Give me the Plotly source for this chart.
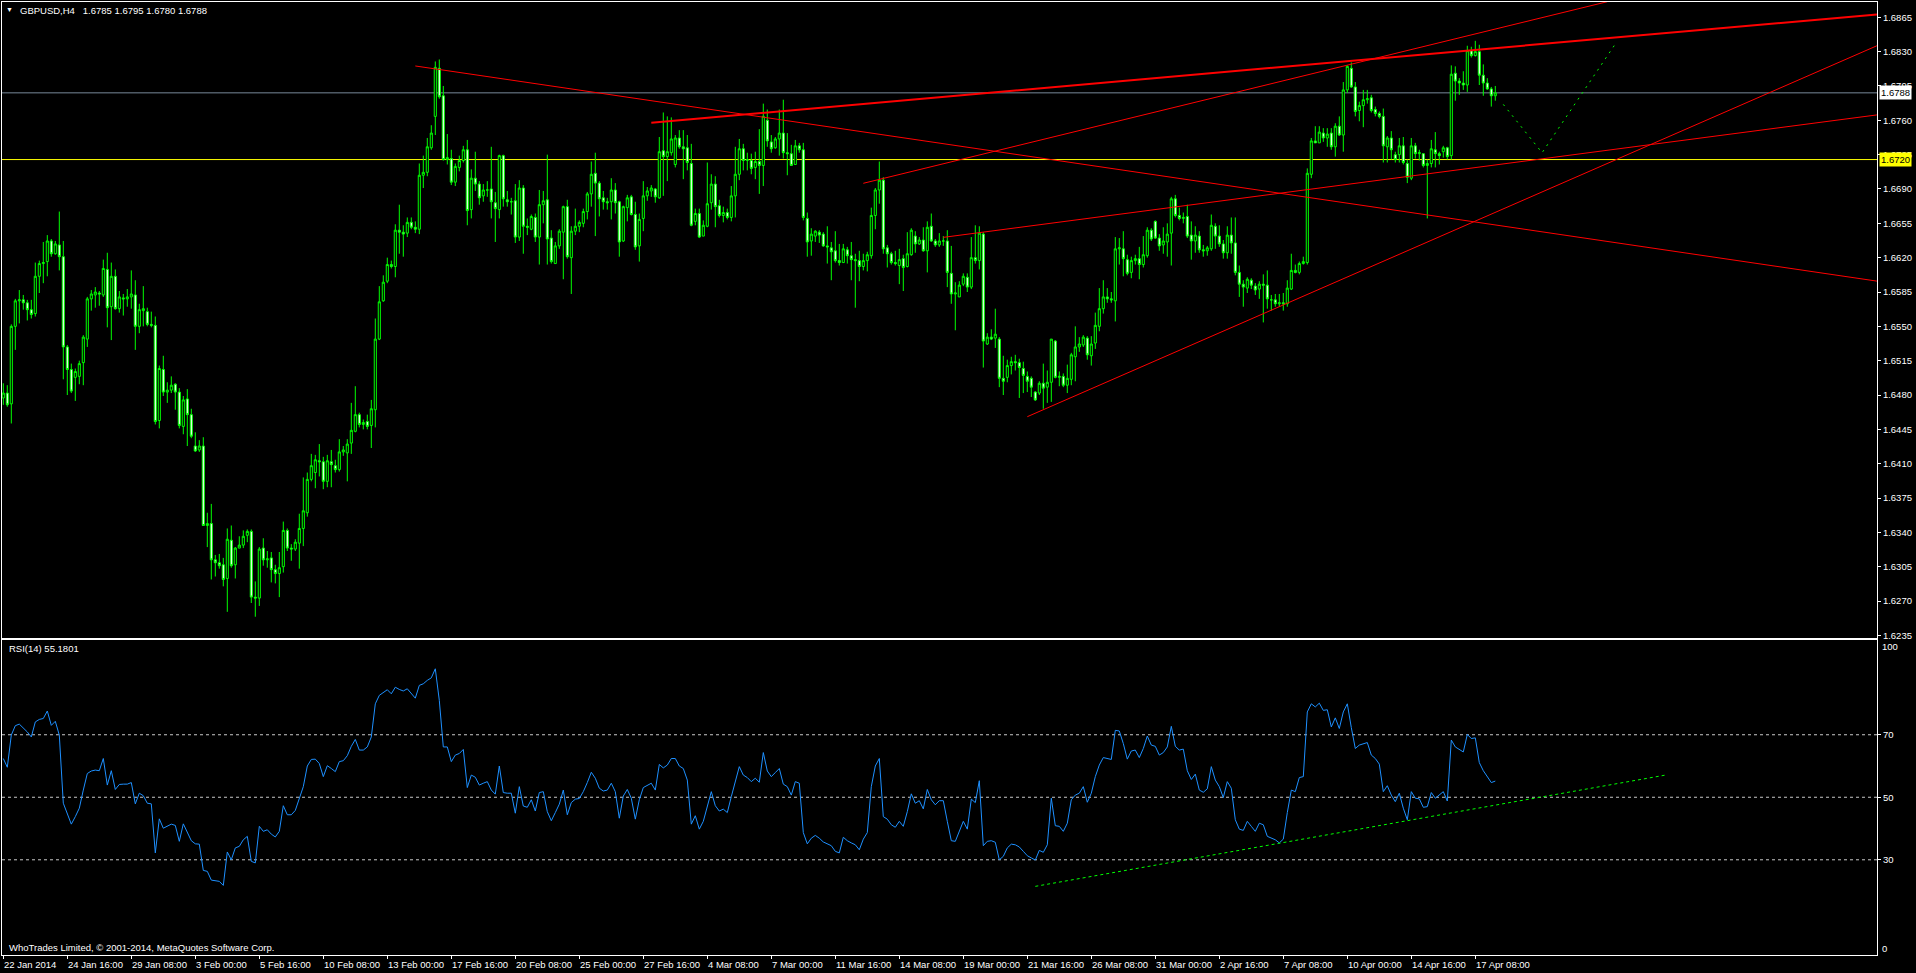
import plotly.graph_objects as go

# GBPUSD H4, bar 0 = 22 Jan 2014 00:00 (six bars per trading day)
# prices are in pips above 1.6000
opens = [
    477, 482, 471, 550, 576, 577, 574, 567, 563, 601,
    614, 616, 637, 624, 633, 621, 529, 506, 498, 499,
    513, 537, 578, 582, 584, 582, 608, 570, 601, 568,
    579, 578, 580, 582, 550, 566, 565, 552, 551, 454,
    506, 483, 485, 491, 483, 448, 476, 460, 428, 424,
    428, 347, 349, 312, 309, 307, 293, 332, 307, 324,
    327, 337, 341, 274, 273, 324, 312, 314, 302, 298,
    305, 342, 324, 323, 329, 344, 360, 394, 401, 413,
    412, 392, 412, 408, 404, 422, 421, 431, 443, 460,
    450, 453, 449, 465, 537, 576, 596, 613, 611, 648,
    646, 645, 656, 651, 649, 704, 707, 732, 764, 813,
    785, 720, 721, 697, 712, 719, 730, 669, 701, 695,
    683, 689, 690, 676, 669, 724, 679, 677, 678, 641,
    691, 652, 649, 661, 641, 674, 679, 640, 614, 632,
    646, 672, 620, 647, 652, 655, 667, 685, 706, 696,
    681, 677, 677, 689, 677, 637, 671, 682, 664, 632,
    660, 683, 688, 690, 681, 729, 723, 727, 715, 742,
    733, 732, 716, 657, 665, 642, 652, 676, 695, 673,
    663, 666, 661, 683, 705, 731, 719, 719, 712, 718,
    714, 760, 738, 732, 741, 747, 727, 726, 715, 734,
    730, 660, 637, 642, 646, 644, 632, 630, 627, 617,
    615, 628, 622, 618, 617, 611, 617, 622, 663, 689,
    699, 630, 624, 615, 612, 619, 611, 623, 642, 634,
    638, 627, 652, 637, 633, 637, 637, 604, 583, 580,
    593, 600, 590, 620, 617, 644, 532, 539, 538, 537,
    497, 498, 510, 514, 513, 507, 499, 497, 483, 482,
    492, 488, 493, 535, 498, 499, 490, 496, 519, 529,
    531, 538, 520, 533, 550, 568, 580, 578, 576, 629,
    629, 618, 605, 617, 619, 613, 622, 648, 657, 640,
    633, 636, 645, 680, 663, 660, 662, 643, 637, 642,
    628, 627, 629, 652, 642, 634, 625, 643, 635, 605,
    593, 589, 597, 591, 588, 593, 592, 577, 577, 573,
    574, 573, 588, 607, 605, 614, 615, 705, 739, 737,
    747, 742, 747, 733, 754, 745, 791, 813, 794, 770,
    775, 781, 783, 771, 767, 764, 733, 742, 725, 725,
    734, 716, 701, 734, 726, 726, 714, 716, 730, 726,
    728, 732, 724, 808, 800, 798, 796, 831, 826, 830,
    806, 798, 792, 785,
]
highs = [
    492, 490, 552, 578, 587, 582, 577, 577, 615, 617,
    636, 643, 639, 637, 667, 637, 531, 512, 507, 515,
    541, 580, 587, 590, 586, 618, 625, 615, 608, 586,
    583, 588, 607, 597, 573, 591, 569, 565, 560, 510,
    520, 493, 499, 492, 487, 479, 486, 466, 442, 434,
    437, 360, 369, 317, 318, 314, 344, 347, 325, 336,
    342, 343, 343, 290, 325, 334, 321, 320, 307, 320,
    351, 344, 328, 333, 359, 396, 401, 420, 419, 430,
    417, 419, 424, 414, 435, 428, 435, 472, 489, 462,
    455, 460, 475, 558, 591, 602, 620, 617, 654, 674,
    653, 661, 661, 657, 716, 724, 742, 755, 820, 822,
    795, 746, 730, 716, 724, 734, 740, 710, 728, 698,
    695, 698, 733, 687, 725, 725, 688, 681, 695, 699,
    694, 660, 664, 665, 689, 688, 725, 648, 636, 649,
    673, 679, 652, 670, 658, 670, 687, 718, 727, 698,
    688, 681, 701, 696, 678, 673, 684, 684, 677, 665,
    698, 692, 694, 691, 743, 768, 764, 763, 745, 750,
    750, 745, 736, 670, 670, 658, 717, 705, 703, 679,
    672, 670, 693, 733, 741, 736, 727, 726, 728, 751,
    777, 771, 745, 743, 771, 781, 747, 735, 740, 737,
    737, 666, 650, 648, 648, 646, 652, 636, 647, 634,
    634, 631, 636, 624, 627, 624, 626, 671, 691, 718,
    702, 633, 626, 627, 629, 623, 646, 650, 647, 641,
    651, 657, 665, 639, 645, 642, 648, 632, 595, 596,
    604, 604, 641, 653, 652, 646, 543, 547, 568, 539,
    520, 516, 519, 521, 517, 514, 504, 499, 484, 494,
    512, 505, 537, 536, 504, 502, 511, 523, 550, 539,
    541, 540, 540, 564, 589, 597, 589, 585, 641, 640,
    647, 623, 621, 623, 631, 642, 651, 650, 658, 644,
    651, 655, 682, 684, 671, 666, 674, 657, 652, 647,
    633, 632, 664, 655, 653, 638, 652, 661, 661, 612,
    597, 600, 599, 594, 596, 603, 607, 582, 583, 583,
    584, 597, 624, 613, 616, 621, 711, 742, 754, 754,
    752, 752, 752, 757, 764, 799, 816, 819, 799, 779,
    791, 791, 786, 774, 769, 772, 744, 749, 728, 742,
    743, 720, 742, 737, 730, 726, 720, 740, 748, 728,
    734, 733, 816, 815, 803, 810, 836, 835, 841, 837,
    817, 803, 794, 795,
]
lows = [
    470, 468, 451, 526, 553, 567, 556, 558, 560, 584,
    594, 601, 621, 623, 607, 496, 480, 482, 474, 491,
    490, 529, 566, 569, 571, 580, 549, 536, 567, 564,
    561, 570, 568, 526, 543, 550, 550, 549, 450, 446,
    479, 472, 482, 465, 446, 440, 428, 436, 422, 422,
    347, 325, 292, 295, 303, 285, 259, 304, 293, 324,
    324, 330, 268, 254, 265, 306, 304, 289, 288, 274,
    299, 321, 311, 321, 303, 326, 356, 392, 385, 397,
    384, 386, 386, 401, 402, 418, 392, 420, 442, 447,
    445, 445, 426, 447, 536, 575, 594, 609, 600, 624,
    621, 641, 649, 645, 644, 691, 703, 730, 745, 782,
    719, 715, 694, 693, 708, 717, 653, 660, 688, 674,
    677, 682, 660, 636, 660, 672, 672, 664, 635, 637,
    624, 643, 648, 636, 613, 655, 613, 614, 614, 629,
    598, 619, 583, 643, 646, 651, 659, 672, 642, 662,
    669, 669, 659, 665, 621, 636, 657, 663, 628, 616,
    647, 678, 682, 676, 680, 683, 698, 724, 712, 731,
    700, 709, 652, 653, 640, 642, 651, 669, 651, 661,
    656, 659, 657, 661, 699, 709, 709, 705, 700, 685,
    693, 733, 727, 731, 724, 721, 704, 714, 715, 727,
    658, 621, 622, 636, 635, 631, 614, 597, 615, 612,
    615, 614, 597, 569, 596, 607, 606, 619, 649, 675,
    624, 610, 613, 612, 593, 586, 610, 622, 625, 633,
    626, 605, 636, 631, 631, 632, 590, 573, 546, 580,
    591, 585, 588, 614, 608, 508, 531, 536, 528, 488,
    480, 493, 501, 505, 477, 482, 483, 478, 474, 480,
    466, 472, 473, 497, 489, 488, 482, 490, 494, 524,
    529, 516, 510, 527, 545, 563, 574, 574, 555, 613,
    601, 602, 599, 613, 598, 610, 620, 637, 639, 627,
    624, 621, 612, 661, 658, 655, 640, 618, 625, 625,
    621, 622, 627, 629, 631, 619, 619, 624, 602, 580,
    570, 584, 588, 582, 578, 554, 568, 566, 570, 570,
    566, 570, 587, 604, 603, 613, 613, 701, 737, 737,
    738, 733, 730, 723, 744, 728, 788, 793, 764, 759,
    753, 777, 768, 764, 762, 717, 717, 720, 717, 717,
    715, 696, 699, 721, 719, 712, 660, 712, 712, 715,
    722, 720, 720, 780, 786, 791, 789, 824, 825, 796,
    785, 791, 774, 780,
]
closes = [
    482, 470, 550, 576, 577, 574, 567, 562, 601, 614,
    615, 637, 624, 634, 621, 529, 506, 484, 504, 512,
    539, 578, 583, 585, 583, 609, 569, 601, 568, 580,
    578, 580, 583, 550, 567, 568, 552, 551, 453, 507,
    483, 485, 490, 483, 449, 475, 460, 438, 423, 428,
    347, 349, 312, 309, 306, 292, 333, 306, 324, 327,
    336, 341, 274, 273, 323, 312, 313, 302, 298, 304,
    342, 324, 323, 330, 344, 362, 394, 408, 414, 412,
    392, 413, 409, 404, 422, 424, 430, 444, 460, 450,
    452, 448, 466, 537, 575, 595, 613, 611, 648, 646,
    644, 656, 651, 649, 704, 707, 733, 747, 814, 784,
    720, 722, 697, 713, 719, 730, 668, 701, 695, 681,
    689, 689, 677, 670, 724, 680, 677, 677, 641, 691,
    652, 651, 662, 641, 674, 678, 639, 616, 632, 647,
    672, 621, 647, 652, 656, 667, 685, 705, 696, 680,
    677, 676, 689, 676, 636, 672, 681, 664, 631, 659,
    683, 688, 691, 682, 728, 723, 728, 741, 742, 733,
    731, 717, 653, 665, 641, 653, 675, 695, 672, 663,
    666, 661, 683, 705, 731, 719, 720, 711, 718, 714,
    764, 739, 731, 741, 747, 727, 726, 714, 734, 730,
    661, 636, 644, 647, 643, 632, 631, 626, 617, 615,
    629, 622, 618, 617, 611, 617, 623, 663, 689, 699,
    629, 624, 615, 614, 618, 610, 624, 648, 634, 638,
    627, 651, 637, 633, 637, 637, 605, 583, 584, 592,
    601, 590, 620, 617, 645, 535, 539, 537, 542, 497,
    494, 510, 514, 513, 508, 500, 494, 488, 475, 492,
    487, 493, 537, 498, 499, 490, 497, 521, 529, 532,
    539, 521, 532, 551, 568, 580, 578, 577, 629, 630,
    619, 604, 617, 619, 613, 623, 648, 639, 640, 632,
    637, 644, 680, 663, 660, 661, 642, 637, 643, 628,
    627, 630, 653, 642, 634, 625, 643, 635, 605, 593,
    590, 598, 592, 587, 593, 592, 578, 577, 573, 574,
    573, 589, 607, 605, 614, 616, 706, 739, 737, 748,
    742, 746, 733, 754, 745, 791, 815, 794, 769, 775,
    781, 782, 770, 767, 764, 734, 742, 730, 720, 734,
    717, 702, 734, 726, 727, 714, 716, 731, 726, 724,
    732, 723, 807, 800, 798, 796, 831, 826, 830, 806,
    798, 792, 785, 788,
]
rsi = [
    62.4, 59.6, 69.9, 72.9, 73.4, 72.3, 70.9, 69.3, 74.1, 74.9,
    75.2, 77.6, 73.0, 74.3, 69.9, 48.1, 44.9, 41.4, 43.8, 46.5,
    52.3, 57.6, 58.4, 58.7, 58.5, 62.4, 53.9, 58.5, 52.5, 54.1,
    54.2, 54.2, 54.7, 47.9, 51.3, 50.5, 48.1, 47.9, 32.2, 43.1,
    40.1, 40.7, 41.4, 41.0, 35.9, 41.5, 38.7, 36.1, 35.1, 35.0,
    26.6, 26.3, 23.5, 23.4, 23.1, 21.8, 32.5, 30.0, 33.8, 34.3,
    36.4, 37.5, 29.5, 29.0, 40.7, 39.1, 39.6, 38.2, 37.3, 39.1,
    47.3, 44.4, 44.4, 45.8, 49.4, 53.4, 60.0, 62.1, 62.2, 60.8,
    56.6, 60.1, 59.2, 58.2, 61.4, 61.7, 63.3, 66.3, 68.5, 65.1,
    65.1, 66.1, 69.3, 79.9, 82.6, 83.4, 84.4, 83.1, 85.2, 84.5,
    84.0, 84.7, 83.1, 81.7, 85.8, 86.3, 87.4, 88.2, 91.1, 81.0,
    66.1, 66.1, 61.4, 63.5, 64.0, 65.3, 53.1, 57.1, 56.4, 53.9,
    54.5, 55.0, 52.3, 51.0, 60.0, 51.5, 51.3, 51.3, 44.9, 53.4,
    47.2, 46.8, 49.2, 45.6, 51.5, 51.8, 45.4, 42.5, 45.1, 47.8,
    52.3, 44.4, 48.3, 49.4, 49.6, 51.8, 54.7, 58.0, 56.1, 52.9,
    52.0, 52.3, 54.5, 51.8, 43.3, 50.4, 52.5, 49.7, 43.0, 49.2,
    53.1, 53.9, 54.5, 52.3, 60.5, 59.4, 60.3, 62.4, 62.4, 60.0,
    59.2, 55.5, 41.4, 44.1, 39.8, 42.3, 47.3, 51.8, 47.3, 45.6,
    46.2, 45.1, 50.2, 55.5, 59.8, 57.1, 56.3, 55.0, 56.1, 54.8,
    64.3, 58.4, 56.6, 57.9, 59.2, 54.2, 53.4, 50.7, 55.0, 54.5,
    38.7, 35.1, 36.9, 37.8, 36.9, 35.7, 35.1, 34.5, 32.7, 32.2,
    37.2, 36.1, 35.4, 34.8, 33.2, 36.6, 38.7, 53.4, 60.0, 62.4,
    43.8, 43.0, 41.2, 40.4, 42.3, 40.7, 45.4, 51.1, 48.1, 48.9,
    46.3, 52.5, 49.2, 47.6, 48.9, 48.9, 42.3, 36.1, 35.9, 39.1,
    42.3, 39.8, 49.4, 48.3, 55.3, 34.5, 35.9, 36.1, 35.6, 30.0,
    31.1, 33.8, 35.0, 34.8, 34.1, 32.7, 31.3, 30.6, 29.9, 33.0,
    32.4, 34.8, 49.7, 40.9, 40.7, 39.1, 41.7, 49.2, 50.7, 51.3,
    53.4, 48.4, 51.3, 56.6, 60.3, 62.7, 62.4, 62.1, 71.4, 71.2,
    67.2, 62.2, 64.8, 65.1, 62.7, 65.6, 69.6, 66.7, 66.3, 63.5,
    64.3, 66.1, 72.7, 66.3, 65.1, 65.4, 58.5, 55.7, 57.4, 52.3,
    51.6, 52.7, 59.8, 55.5, 53.4, 49.9, 55.0, 52.9, 42.8, 39.8,
    39.4, 42.3, 40.7, 39.1, 41.7, 41.2, 37.5, 36.9, 36.4, 35.4,
    36.6, 45.1, 52.3, 51.8, 56.3, 56.6, 77.3, 79.9, 78.9, 80.1,
    77.8, 78.0, 72.5, 75.4, 72.0, 77.3, 79.9, 72.3, 65.6, 66.7,
    67.2, 67.5, 63.5, 62.4, 60.6, 51.8, 53.7, 50.7, 48.6, 51.3,
    46.5, 42.8, 51.8, 49.7, 49.5, 46.8, 47.0, 51.5, 49.7, 50.7,
    51.8, 48.8, 68.3, 66.1, 65.3, 64.5, 70.1, 68.8, 69.0, 61.1,
    58.5, 56.6, 54.7, 55.18,
]

# time scale labels, one every 16 bars
time_labels = [
    "22 Jan 2014", "24 Jan 16:00", "29 Jan 08:00", "3 Feb 00:00",
    "5 Feb 16:00", "10 Feb 08:00", "13 Feb 00:00", "17 Feb 16:00",
    "20 Feb 08:00", "25 Feb 00:00", "27 Feb 16:00", "4 Mar 08:00",
    "7 Mar 00:00", "11 Mar 16:00", "14 Mar 08:00", "19 Mar 00:00",
    "21 Mar 16:00", "26 Mar 08:00", "31 Mar 00:00", "2 Apr 16:00",
    "7 Apr 08:00", "10 Apr 00:00", "14 Apr 16:00", "17 Apr 08:00",
]
time_label_bars = [
    0, 16, 32, 48, 64, 80, 96, 112, 128, 144, 160, 176,
    192, 208, 224, 240, 256, 272, 288, 304, 320, 336, 352, 368,
]
price_ticks = [
    "1.6235", "1.6270", "1.6305", "1.6340", "1.6375", "1.6410", "1.6445",
    "1.6480", "1.6515", "1.6550", "1.6585", "1.6620", "1.6655", "1.6690",
    "1.6725", "1.6760", "1.6795", "1.6830", "1.6865",
]
rsi_levels = [30, 50, 70]

# hand drawn objects: (bar, price) end points
red_lines = [
    ([103, 468.4], [1.68154, 1.65961], 1),
    ([162, 468.4], [1.67576, 1.68679], 2),
    ([215, 401.0], [1.66958, 1.68809], 1),
    ([256, 468.4], [1.64579, 1.68360], 1),
    ([235, 468.4], [1.66407, 1.67655], 1),
]
projection_bars = [375, 384.7, 403.2]
projection_prices = [1.67762, 1.67270, 1.68390]
rsi_trend_bars = [258, 416]
rsi_trend_values = [21.5, 57.2]
bid_price = 1.6788
level_price = 1.6720

FONT = "Liberation Sans"
W, H = 1916, 973
PL, PR, PT, PB = 2, 1877, 2, 955


def px(x):
    return (x - PL) / (PR - PL)


def py(y):
    return (PB - y) / (PB - PT)


bars = list(range(len(closes)))
to_price = lambda vals: [1.6 + v / 10000 for v in vals]

fig = go.Figure()

fig.add_trace(go.Candlestick(
    x=bars,
    open=to_price(opens),
    high=to_price(highs),
    low=to_price(lows),
    close=to_price(closes),
    xaxis="x", yaxis="y",
    whiskerwidth=0,
    increasing=dict(line=dict(color="#00ff00", width=1), fillcolor="#000000"),
    decreasing=dict(line=dict(color="#00ff00", width=1), fillcolor="#ffffff"),
    hoverinfo="skip",
    showlegend=False,
))

for lx, ly, lw in red_lines:
    fig.add_trace(go.Scatter(
        x=lx, y=ly, mode="lines", xaxis="x", yaxis="y",
        line=dict(color="#ff0000", width=lw),
        hoverinfo="skip", showlegend=False,
    ))

fig.add_trace(go.Scatter(
    x=projection_bars, y=projection_prices, mode="lines", xaxis="x", yaxis="y",
    line=dict(color="#00ff00", width=1, dash="2px,5px"),
    hoverinfo="skip", showlegend=False,
))

fig.add_trace(go.Scatter(
    x=bars, y=rsi, mode="lines", xaxis="x2", yaxis="y2",
    line=dict(color="#1e90ff", width=1),
    hoverinfo="skip", showlegend=False,
))

fig.add_trace(go.Scatter(
    x=rsi_trend_bars, y=rsi_trend_values, mode="lines", xaxis="x2", yaxis="y2",
    line=dict(color="#00ff00", width=1, dash="3px,3px"),
    hoverinfo="skip", showlegend=False,
))

shapes = [
    dict(type="line", xref="x domain", yref="y", x0=0, x1=1,
         y0=bid_price, y1=bid_price, line=dict(color="#778899", width=1), layer="below"),
    dict(type="line", xref="x domain", yref="y", x0=0, x1=1,
         y0=level_price, y1=level_price, line=dict(color="#ffff00", width=1), layer="below"),
]
for lv in rsi_levels:
    shapes.append(dict(type="line", xref="x2 domain", yref="y2", x0=0, x1=1,
                       y0=lv, y1=lv, line=dict(color="#c8c8c8", width=1, dash="3px,3px"),
                       layer="below"))

annotations = [
    dict(text="\u25bc", xref="paper", yref="paper", x=px(9), y=py(9),
         xanchor="center", yanchor="middle", showarrow=False,
         font=dict(size=7, color="white", family=FONT)),
    dict(text="GBPUSD,H4\u00a0\u00a0 1.6785 1.6795 1.6780 1.6788", xref="paper", yref="paper",
         x=px(18), y=py(10), xanchor="left", yanchor="middle", showarrow=False),
    dict(text="RSI(14) 55.1801", xref="paper", yref="paper",
         x=px(7), y=py(648), xanchor="left", yanchor="middle", showarrow=False),
    dict(text="WhoTrades Limited, \u00a9 2001-2014, MetaQuotes Software Corp.",
         xref="paper", yref="paper", x=px(7), y=py(947),
         xanchor="left", yanchor="middle", showarrow=False),
    dict(text="1.6788", xref="paper", yref="y", x=px(1879), y=bid_price,
         xanchor="left", yanchor="middle", showarrow=False, bgcolor="#ffffff",
         borderpad=1, font=dict(color="black", size=9.5, family=FONT)),
    dict(text="1.6720", xref="paper", yref="y", x=px(1879), y=level_price,
         xanchor="left", yanchor="middle", showarrow=False, bgcolor="#ffff00",
         borderpad=1, font=dict(color="black", size=9.5, family=FONT)),
    dict(text="100", xref="paper", yref="paper", x=px(1880), y=py(646.5),
         xanchor="left", yanchor="middle", showarrow=False),
    dict(text="0", xref="paper", yref="paper", x=px(1880), y=py(948),
         xanchor="left", yanchor="middle", showarrow=False),
]
for lab, b in zip(time_labels, time_label_bars):
    annotations.append(dict(text=lab, xref="x2", yref="paper", x=b, y=0,
                            xanchor="left", yanchor="top", yshift=-2, xshift=-1,
                            showarrow=False))

x_range = [-0.325, 468.425]
axis_common = dict(showgrid=False, zeroline=False, showline=True, mirror=True,
                   linecolor="white", linewidth=1, tickcolor="white")

fig.update_layout(
    width=W, height=H,
    margin=dict(l=PL, r=W - PR, t=PT, b=H - PB, pad=0),
    paper_bgcolor="black", plot_bgcolor="black",
    font=dict(family=FONT, size=9.5, color="white"),
    showlegend=False,
    boxgap=0.25,
    hovermode=False,
    xaxis=dict(domain=[0, 1], anchor="y", range=x_range, showticklabels=False,
               ticks="", rangeslider=dict(visible=False), **axis_common),
    yaxis=dict(domain=[0.3326, 1], anchor="x", range=[1.62323, 1.68806], side="right",
               tickmode="array", tickvals=[float(t) for t in price_ticks], ticktext=price_ticks,
               ticks="outside", ticklen=3, **axis_common),
    xaxis2=dict(domain=[0, 1], anchor="y2", range=x_range, showticklabels=False,
                tickmode="array", tickvals=time_label_bars, ticks="outside", ticklen=3,
                **axis_common),
    yaxis2=dict(domain=[0, 0.3305], anchor="x2", range=[-0.46, 100.3], side="right",
                tickmode="array", tickvals=rsi_levels, ticktext=[str(v) for v in rsi_levels],
                ticks="outside", ticklen=3, **axis_common),
    shapes=shapes,
    annotations=annotations,
)

# page body margin off so the 1916x973 figure fills the window exactly
fig.write_html(
    "out.html",
    config={"displayModeBar": False},
    post_script="document.body.style.margin='0';document.body.style.overflow='hidden';",
)
